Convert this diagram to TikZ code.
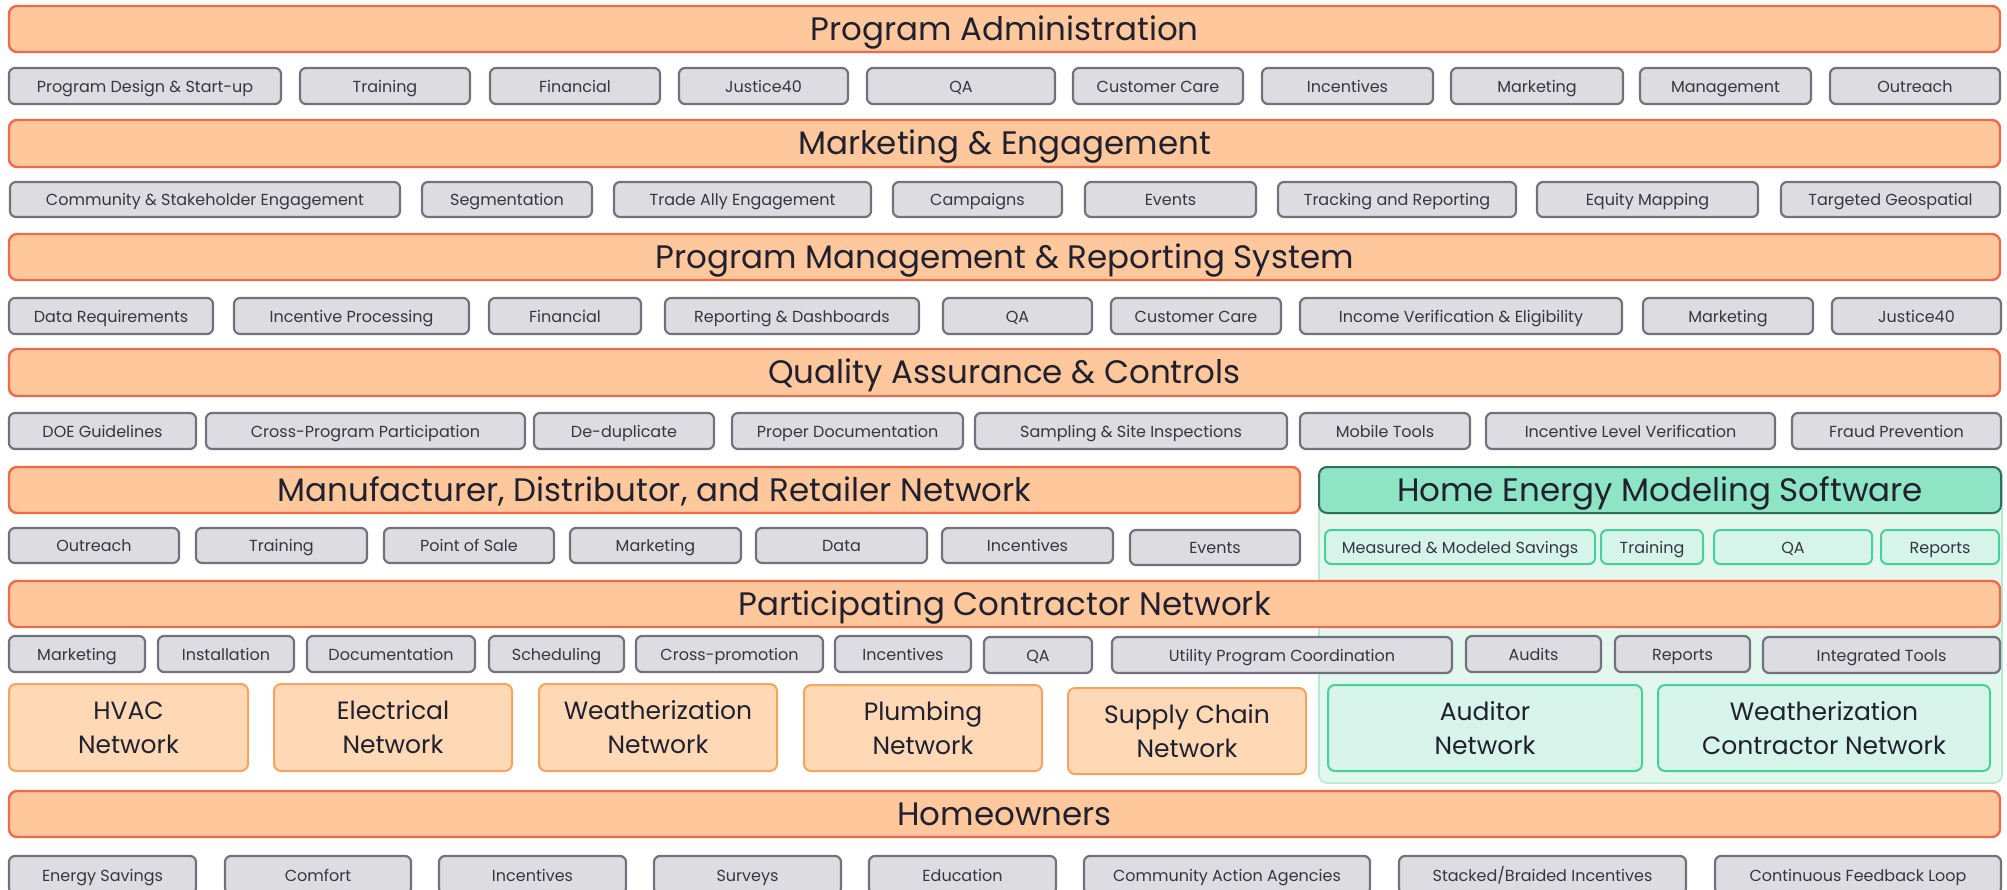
\documentclass[tikz,border=0pt]{standalone}
\usepackage{fontspec}
\setmainfont{Poppins}
\definecolor{txt}{HTML}{20202E}
\definecolor{hdrfill}{HTML}{FFC89C}
\definecolor{hdrline}{HTML}{EE6A4A}
\definecolor{itfill}{HTML}{DCDCE1}
\definecolor{itline}{HTML}{72727C}
\definecolor{netfill}{HTML}{FFD8B5}
\definecolor{netline}{HTML}{F5A45F}
\definecolor{ghdrfill}{HTML}{8EE5C5}
\definecolor{ghdrline}{HTML}{2F6E58}
\definecolor{gpanfill}{HTML}{E3F7EF}
\definecolor{gpanline}{HTML}{B3EBD5}
\definecolor{gitfill}{HTML}{D6F4E9}
\definecolor{gitline}{HTML}{45D09C}
\tikzset{
  base/.style={rectangle, inner sep=0pt, outer sep=0pt, text=txt},
  hdrtext/.style={font=\fontsize{32.5}{38}\selectfont, text height=22.75pt, text depth=0pt},
  ittext/.style={font=\fontsize{16}{19}\selectfont, text=txt!90, text height=12.2pt, text depth=0pt},
  header/.style={base, hdrtext, rounded corners=8pt, fill=hdrfill, draw=hdrline, line width=2.4pt},
  gheader/.style={base, hdrtext, rounded corners=8pt, fill=ghdrfill, draw=ghdrline, line width=2pt},
  item/.style={base, ittext, rounded corners=6pt, fill=itfill, draw=itline, line width=2.2pt},
  gitem/.style={base, ittext, rounded corners=6pt, fill=gitfill, draw=gitline, line width=2pt},
  net/.style={base, rounded corners=7pt, fill=netfill, draw=netline, line width=2pt,
    align=center, font=\fontsize{25}{34}\selectfont},
  gnet/.style={base, rounded corners=7pt, fill=gitfill, draw=gitline, line width=2pt,
    align=center, font=\fontsize{25}{34}\selectfont},
  panel/.style={base, rounded corners=8pt, fill=gpanfill, draw=gpanline, line width=1.6pt},
}
% \bx{style}{name}{x1}{x2}{y1}{y2}{text}: box spanning the given pixel extents
\newcommand{\bx}[7]{%
  \pgfmathsetmacro\bxcx{(#3+#4)/2}%
  \pgfmathsetmacro\bxcy{(#5+#6)/2}%
  \pgfmathsetmacro\bxw{#4-#3}%
  \pgfmathsetmacro\bxh{#6-#5}%
  \node[#1, minimum width=\bxw pt, minimum height=\bxh pt] (#2) at (\bxcx,\bxcy) {#7};}
\begin{document}
\begin{tikzpicture}[x=1pt, y=-1pt]
\useasboundingbox (0,0) rectangle (2007,890);
\clip (0,0) rectangle (2007,890);

% modeling software panel behind the lower layers
\bx{panel}{panel}{1319}{2002}{467}{783}{}

% Program Administration
\bx{header}{h1}{9}{2000}{6}{52}{Program Administration}
\bx{item}{a1}{9}{281}{68}{104}{Program Design \& Start-up}
\bx{item}{a2}{300}{470}{68}{104}{Training}
\bx{item}{a3}{490}{660}{68}{104}{Financial}
\bx{item}{a4}{679}{848}{68}{104}{Justice40}
\bx{item}{a5}{867}{1055}{68}{104}{QA}
\bx{item}{a6}{1073}{1243}{68}{104}{Customer Care}
\bx{item}{a7}{1262}{1433}{68}{104}{Incentives}
\bx{item}{a8}{1451}{1623}{68}{104}{Marketing}
\bx{item}{a9}{1640}{1811}{68}{104}{Management}
\bx{item}{a10}{1830}{2000}{68}{104}{Outreach}

% Marketing & Engagement
\bx{header}{h2}{9}{2000}{120}{167}{Marketing \& Engagement}
\bx{item}{b1}{10}{400}{182}{217}{Community \& Stakeholder Engagement}
\bx{item}{b2}{422}{592}{182}{217}{Segmentation}
\bx{item}{b3}{614}{871}{182}{217}{Trade Ally Engagement}
\bx{item}{b4}{893}{1062}{182}{217}{Campaigns}
\bx{item}{b5}{1085}{1256}{182}{217}{Events}
\bx{item}{b6}{1278}{1516}{182}{217}{Tracking and Reporting}
\bx{item}{b7}{1537}{1758}{182}{217}{Equity Mapping}
\bx{item}{b8}{1781}{2000}{182}{217}{Targeted Geospatial}

% Program Management & Reporting System
\bx{header}{h3}{9}{2000}{234}{280}{Program Management \& Reporting System}
\bx{item}{c1}{9}{213}{298}{334}{Data Requirements}
\bx{item}{c2}{234}{469}{298}{334}{Incentive Processing}
\bx{item}{c3}{489}{641}{298}{334}{Financial}
\bx{item}{c4}{665}{919}{298}{334}{Reporting \& Dashboards}
\bx{item}{c5}{943}{1092}{298}{334}{QA}
\bx{item}{c6}{1111}{1281}{298}{334}{Customer Care}
\bx{item}{c7}{1300}{1622}{298}{334}{Income Verification \& Eligibility}
\bx{item}{c8}{1643}{1813}{298}{334}{Marketing}
\bx{item}{c9}{1832}{2001}{298}{334}{Justice40}

% Quality Assurance & Controls
\bx{header}{h4}{9}{2000}{349}{396}{Quality Assurance \& Controls}
\bx{item}{d1}{9}{196}{413}{449}{DOE Guidelines}
\bx{item}{d2}{206}{525}{413}{449}{Cross-Program Participation}
\bx{item}{d3}{534}{714}{413}{449}{De-duplicate}
\bx{item}{d4}{732}{963}{413}{449}{Proper Documentation}
\bx{item}{d5}{975}{1287}{413}{449}{Sampling \& Site Inspections}
\bx{item}{d6}{1300}{1470}{413}{449}{Mobile Tools}
\bx{item}{d7}{1486}{1775}{413}{449}{Incentive Level Verification}
\bx{item}{d8}{1792}{2001}{413}{449}{Fraud Prevention}

% Manufacturer, Distributor, and Retailer Network
\bx{header}{h5}{9}{1300}{467}{513}{Manufacturer, Distributor, and Retailer Network}
\bx{item}{e1}{9}{179}{528}{563}{Outreach}
\bx{item}{e2}{196}{367}{528}{563}{Training}
\bx{item}{e3}{384}{554}{528}{563}{Point of Sale}
\bx{item}{e4}{570}{741}{528}{563}{Marketing}
\bx{item}{e5}{756}{927}{528}{563}{Data}
\bx{item}{e6}{942}{1113}{528}{563}{Incentives}
\bx{item}{e7}{1130}{1300}{530}{565}{Events}

% Home Energy Modeling Software
\bx{gheader}{g0}{1319}{2001}{467}{513}{Home Energy Modeling Software}
\bx{gitem}{g1}{1325}{1595}{530}{564}{Measured \& Modeled Savings}
\bx{gitem}{g2}{1601}{1703}{530}{564}{Training}
\bx{gitem}{g3}{1714}{1872}{530}{564}{QA}
\bx{gitem}{g4}{1881}{1999}{530}{564}{Reports}

% Participating Contractor Network
\bx{header}{h6}{9}{2000}{581}{627}{Participating Contractor Network}
\bx{item}{f1}{9}{145}{636}{672}{Marketing}
\bx{item}{f2}{158}{294}{636}{672}{Installation}
\bx{item}{f3}{307}{475}{636}{672}{Documentation}
\bx{item}{f4}{489}{624}{636}{672}{Scheduling}
\bx{item}{f5}{636}{823}{636}{672}{Cross-promotion}
\bx{item}{f6}{835}{971}{636}{672}{Incentives}
\bx{item}{f7}{984}{1092}{637}{673}{QA}
\bx{item}{f8}{1112}{1452}{637}{673}{Utility Program Coordination}
\bx{item}{f9}{1466}{1601}{636}{672}{Audits}
\bx{item}{f10}{1615}{1750}{636}{672}{Reports}
\bx{item}{f11}{1763}{2000}{637}{673}{Integrated Tools}

% contractor networks
\bx{net}{n1}{9}{248}{684}{771}{HVAC\\Network}
\bx{net}{n2}{274}{512}{684}{771}{Electrical\\Network}
\bx{net}{n3}{539}{777}{684}{771}{Weatherization\\Network}
\bx{net}{n4}{804}{1042}{685}{771}{Plumbing\\Network}
\bx{net}{n5}{1068}{1306}{688}{774}{Supply Chain\\Network}
\bx{gnet}{n6}{1328}{1642}{685}{771}{Auditor\\Network}
\bx{gnet}{n7}{1658}{1990}{685}{771}{Weatherization\\Contractor Network}

% Homeowners
\bx{header}{h7}{9}{2000}{791}{837}{Homeowners}
\bx{item}{k1}{9}{196}{856}{894}{Energy Savings}
\bx{item}{k2}{225}{411}{856}{894}{Comfort}
\bx{item}{k3}{439}{626}{856}{894}{Incentives}
\bx{item}{k4}{654}{841}{856}{894}{Surveys}
\bx{item}{k5}{869}{1056}{856}{894}{Education}
\bx{item}{k6}{1084}{1370}{856}{894}{Community Action Agencies}
\bx{item}{k7}{1399}{1686}{856}{894}{Stacked/Braided Incentives}
\bx{item}{k8}{1715}{2001}{856}{894}{Continuous Feedback Loop}
\end{tikzpicture}
\end{document}
